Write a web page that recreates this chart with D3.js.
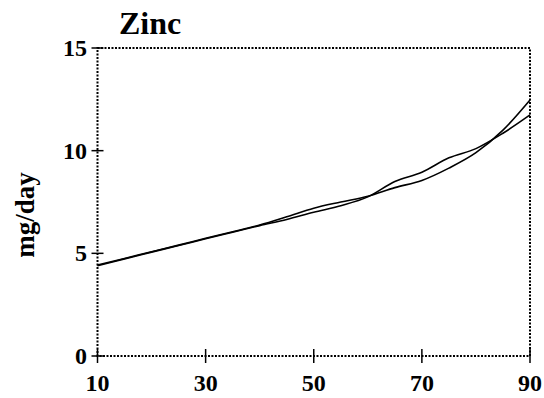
<!DOCTYPE html>
<html>
<head>
<meta charset="utf-8">
<script src="https://cdn.jsdelivr.net/npm/d3@7"></script>
<style>
  body { margin: 0; background: #fff; }
  text { font-family: "Liberation Serif", "Times New Roman", serif; font-weight: bold; fill: #000; }
</style>
</head>
<body>
<div id="chart"></div>
<script>
// data
const ages = [10, 15, 20, 25, 30, 35, 40, 45, 50, 55, 60, 65, 70, 75, 80, 85, 90];
const seriesA = [4.43, 4.75, 5.08, 5.40, 5.73, 6.05, 6.38, 6.78, 7.20, 7.50, 7.78, 8.20, 8.55, 9.15, 9.90, 11.0, 12.47];
const seriesB = [4.40, 4.73, 5.06, 5.38, 5.71, 6.03, 6.35, 6.65, 7.00, 7.32, 7.75, 8.50, 8.95, 9.65, 10.10, 10.85, 11.74];
const xTicks = [10, 30, 50, 70, 90];
const yTicks = [0, 5, 10, 15];

const W = 544, H = 398;
const plotLeft = 97.5, plotRight = 530, plotTop = 48, plotBottom = 356;

const svg = d3.select("#chart").append("svg")
  .attr("width", W)
  .attr("height", H);

const x = d3.scaleLinear().domain([10, 90]).range([plotLeft, plotRight]);
const y = d3.scaleLinear().domain([0, 15]).range([plotBottom, plotTop]);

// dotted frame
svg.append("rect")
  .attr("x", plotLeft).attr("y", plotTop)
  .attr("width", plotRight - plotLeft).attr("height", plotBottom - plotTop)
  .attr("fill", "none")
  .attr("stroke", "#000")
  .attr("stroke-width", 2)
  .attr("stroke-dasharray", "2,1.5");

// ticks crossing the axes
svg.selectAll(".xt").data(xTicks).enter().append("line")
  .attr("x1", d => x(d)).attr("x2", d => x(d))
  .attr("y1", plotBottom - 7).attr("y2", plotBottom + 7)
  .attr("stroke", "#000").attr("stroke-width", 1.5);

svg.selectAll(".yt").data(yTicks).enter().append("line")
  .attr("x1", plotLeft - 6).attr("x2", plotLeft + 6)
  .attr("y1", d => y(d)).attr("y2", d => y(d))
  .attr("stroke", "#000").attr("stroke-width", 1.5);

svg.selectAll(".xl").data(xTicks).enter().append("text")
  .attr("x", d => x(d))
  .attr("y", 391)
  .attr("text-anchor", "middle")
  .style("font-size", "24px")
  .text(d => d);

svg.selectAll(".yl").data(yTicks).enter().append("text")
  .attr("x", 87)
  .attr("y", d => y(d) + 8)
  .attr("text-anchor", "end")
  .style("font-size", "24px")
  .text(d => d);

// title and axis label
svg.append("text")
  .attr("x", 119).attr("y", 34)
  .style("font-size", "32px")
  .text("Zinc");

svg.append("text")
  .attr("transform", "translate(34,215) rotate(-90)")
  .attr("text-anchor", "middle")
  .style("font-size", "27px")
  .text("mg/day");

const line = d3.line()
  .x((d, i) => x(ages[i]))
  .y(d => y(d))
  .curve(d3.curveMonotoneX);

[seriesA, seriesB].forEach(s => {
  svg.append("path")
    .datum(s)
    .attr("d", line)
    .attr("fill", "none")
    .attr("stroke", "#000")
    .attr("stroke-width", 1.6);
});
</script>
</body>
</html>
